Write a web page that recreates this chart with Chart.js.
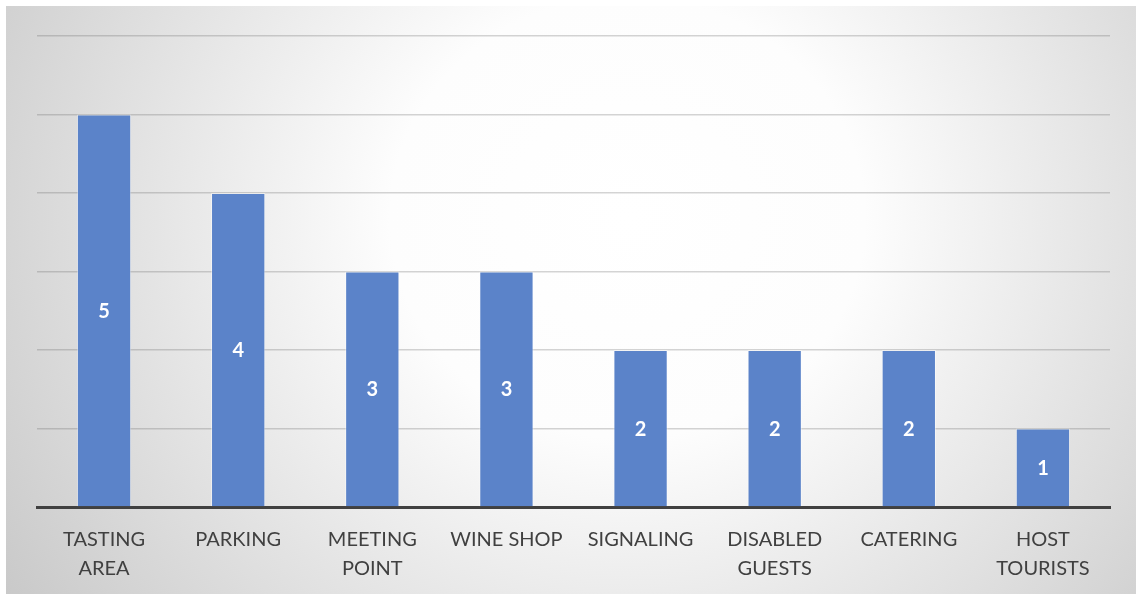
<!DOCTYPE html>
<html lang="en">
<head>
    <meta charset="UTF-8">
    <title>Tourist survey</title>
    <style>
        body { margin: 0; background: #fff; }
        #wrap {
            position: absolute; left: 6px; top: 6px; width: 1130px; height: 588px;
            background: radial-gradient(ellipse 70% 125% at 55% 36%, #ffffff 0%, #fdfdfd 30%, #c4c4c4 100%);
        }
    </style>
    <script src="https://cdn.jsdelivr.net/npm/chart.js@4.4.0/dist/chart.umd.min.js"></script>
</head>
<body>
    <div id="wrap"><canvas id="survey-chart" width="1130" height="588"></canvas></div>
    <script>
        const categories = [
            ['TASTING', 'AREA'], 'PARKING', ['MEETING', 'POINT'], 'WINE SHOP',
            'SIGNALING', ['DISABLED', 'GUESTS'], 'CATERING', ['HOST', 'TOURISTS']
        ];
        const counts = [5, 4, 3, 3, 2, 2, 2, 1];

        // white value labels in the middle of each bar
        const barLabels = {
            id: 'barLabels',
            afterDatasetsDraw(chart) {
                const ctx = chart.ctx;
                const meta = chart.getDatasetMeta(0);
                ctx.save();
                ctx.fillStyle = '#ffffff';
                ctx.font = 'bold 20px Lato';
                ctx.textAlign = 'center';
                ctx.textBaseline = 'middle';
                meta.data.forEach((bar, i) => {
                    ctx.fillText(counts[i], bar.x, (bar.y + bar.base) / 2 + 1);
                });
                ctx.restore();
            }
        };

        new Chart(document.getElementById('survey-chart'), {
            type: 'bar',
            data: {
                labels: categories,
                datasets: [{
                    data: counts,
                    backgroundColor: '#5b83c9',
                    borderColor: 'rgba(255,255,255,0.45)',
                    borderWidth: 1,
                    categoryPercentage: 1,
                    barPercentage: 0.405
                }]
            },
            options: {
                responsive: false,
                animation: false,
                layout: { padding: { left: 31, right: 26, top: 30, bottom: 0 } },
                plugins: { legend: { display: false }, tooltip: { enabled: false } },
                scales: {
                    x: {
                        z: 1,
                        grid: { display: false },
                        border: { color: '#404040', width: 3 },
                        ticks: {
                            color: '#404040',
                            font: { family: 'Lato', size: 20, lineHeight: 1.45 },
                            padding: 10,
                            maxRotation: 0,
                            autoSkip: false
                        },
                        afterFit: s => { s.height = 87; }
                    },
                    y: {
                        z: 1,
                        min: 0,
                        max: 6,
                        ticks: { display: false, stepSize: 1 },
                        border: { display: false },
                        grid: { color: 'rgba(100,100,100,0.28)', lineWidth: 1.5, drawTicks: false },
                        afterFit: s => { s.width = 0; }
                    }
                }
            },
            plugins: [barLabels]
        });
    </script>
</body>
</html>
